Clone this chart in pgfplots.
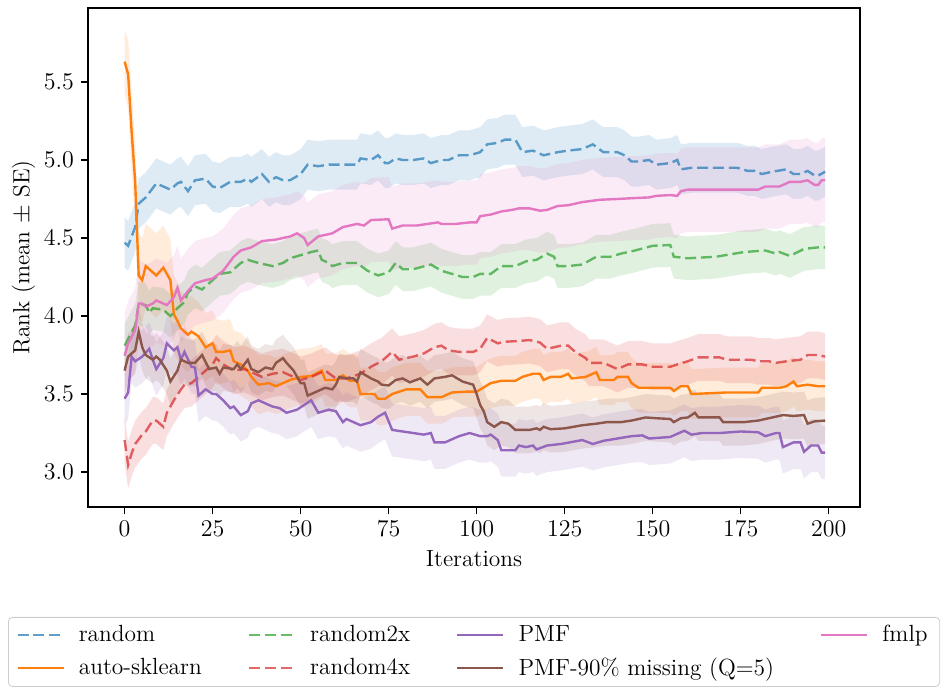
\documentclass[border=0pt]{standalone}
\usepackage{pgfplots}
\pgfplotsset{compat=1.18}
\usepackage{pgfplotstable}
\usepgfplotslibrary{fillbetween}
\definecolor{c0}{HTML}{1F77B4}
\definecolor{c1}{HTML}{FF7F0E}
\definecolor{c2}{HTML}{2CA02C}
\definecolor{c3}{HTML}{D62728}
\definecolor{c4}{HTML}{9467BD}
\definecolor{c5}{HTML}{8C564B}
\definecolor{c6}{HTML}{E377C2}
\newcommand{\fsz}{\fontsize{11.7}{14}\selectfont}

\pgfplotstableread{
i m
0 4.47
1 4.45
3 4.57
4 4.72
6 4.76
7 4.79
9 4.85
11 4.83
13 4.81
15 4.85
16 4.86
18 4.80
20 4.87
23 4.88
25 4.83
27 4.82
30 4.86
33 4.86
35 4.88
36 4.86
39 4.91
41 4.86
43 4.89
45 4.87
47 4.87
50 4.91
52 4.97
55 4.96
58 4.97
63 4.97
66 4.97
67 5.01
70 5.00
72 5.03
74 4.98
75 4.98
77 5.01
79 5.00
82 5.00
85 5.01
87 4.98
90 5.00
92 5.00
95 5.03
98 5.03
101 5.05
103 5.10
106 5.11
108 5.13
111 5.13
113 5.05
116 5.06
119 5.03
123 5.05
126 5.06
130 5.07
133 5.10
136 5.05
140 5.05
142 5.03
144 4.99
146 4.99
149 5.00
151 4.97
155 4.98
157 5.00
158 4.94
161 4.95
168 4.95
174 4.95
177 4.93
179 4.93
181 4.91
184 4.925
188 4.94
190 4.91
192 4.91
194 4.93
196 4.90
197 4.90
199 4.925
}\trandom

\pgfplotstableread{
i m
0 3.81
3 3.94
4 4.08
6 4.07
7 4.02
8 4.05
11 4.04
13 4.00
15 4.05
17 4.09
18 4.15
20 4.19
22 4.17
24 4.21
27 4.27
30 4.28
33 4.34
35 4.36
38 4.34
42 4.32
45 4.34
47 4.37
50 4.39
53 4.41
55 4.42
56 4.36
58 4.34
59 4.32
62 4.34
66 4.34
69 4.29
72 4.26
75 4.28
77 4.34
79 4.30
82 4.30
87 4.33
90 4.29
93 4.27
96 4.25
99 4.25
101 4.27
104 4.27
107 4.32
111 4.32
114 4.35
117 4.36
120 4.40
122 4.38
123 4.32
126 4.32
130 4.33
134 4.38
138 4.38
141 4.40
145 4.42
150 4.45
155 4.455
156 4.38
160 4.37
168 4.38
176 4.41
182 4.42
185 4.40
186 4.41
189 4.385
193 4.43
197 4.44
199 4.44
}\trandomtwo

\pgfplotstableread{
i m
0 3.205
1 3.045
2 3.12
3 3.18
5 3.24
6 3.26
8 3.33
9 3.33
11 3.29
12 3.38
14 3.46
16 3.53
17 3.56
19 3.57
21 3.61
23 3.65
25 3.69
26 3.73
28 3.69
31 3.65
34 3.66
36 3.64
39 3.61
42 3.63
45 3.64
47 3.62
50 3.59
53 3.61
57 3.65
60 3.60
63 3.60
67 3.63
70 3.675
73 3.71
76 3.77
78 3.72
82 3.74
85 3.76
88 3.80
90 3.81
92 3.78
95 3.77
99 3.77
101 3.79
103 3.86
106 3.825
108 3.835
112 3.84
115 3.846
118 3.83
120 3.79
124 3.81
126 3.81
128 3.77
131 3.73
132 3.70
136 3.70
140 3.66
143 3.69
147 3.69
150 3.675
155 3.675
157 3.69
160 3.71
163 3.735
169 3.735
171 3.72
178 3.72
180 3.71
183 3.71
185 3.70
188 3.71
192 3.72
194 3.75
197 3.75
199 3.74
}\trandomfour

\pgfplotstableread{
i m s
0 5.63 0.20
1 5.55 0.22
2 5.18 0.25
3 4.86 0.25
4 4.26 0.27
5 4.23 0.27
6 4.32 0.27
9 4.26 0.27
11 4.31 0.27
13 4.23 0.26
14 4.01 0.25
15 3.97 0.25
16 3.92 0.24
18 3.88 0.24
19 3.90 0.23
21 3.87 0.22
23 3.80 0.22
25 3.825 0.21
26 3.77 0.21
28 3.77 0.2
30 3.78 0.2
31 3.71 0.2
33 3.69 0.2
35 3.65 0.19
36 3.61 0.19
38 3.56 0.19
41 3.57 0.18
43 3.55 0.18
45 3.57 0.18
47 3.59 0.18
50 3.61 0.18
53 3.615 0.18
56 3.65 0.17
57 3.59 0.17
60 3.59 0.17
62 3.62 0.17
64 3.585 0.17
66 3.585 0.17
67 3.50 0.17
71 3.50 0.17
72 3.47 0.17
74 3.47 0.17
76 3.50 0.17
80 3.53 0.17
84 3.53 0.17
86 3.48 0.17
90 3.48 0.17
91 3.49 0.17
93 3.51 0.16
97 3.515 0.16
100 3.515 0.16
104 3.57 0.16
107 3.585 0.16
111 3.585 0.16
113 3.61 0.16
116 3.63 0.16
118 3.63 0.16
119 3.59 0.16
121 3.61 0.16
124 3.61 0.16
126 3.63 0.16
127 3.60 0.16
131 3.61 0.16
134 3.64 0.16
135 3.59 0.16
139 3.59 0.16
140 3.61 0.16
143 3.61 0.16
144 3.57 0.16
146 3.54 0.16
155 3.54 0.16
156 3.52 0.16
158 3.55 0.16
160 3.55 0.16
161 3.50 0.16
171 3.51 0.16
180 3.51 0.16
181 3.54 0.16
186 3.54 0.16
188 3.55 0.16
190 3.58 0.16
191 3.55 0.16
194 3.56 0.16
197 3.55 0.16
199 3.55 0.16
}\tauto

\pgfplotstableread{
i m
0 3.47
1 3.51
2 3.74
3 3.71
5 3.74
7 3.79
8 3.72
9 3.66
11 3.73
12 3.825
14 3.78
15 3.80
16 3.72
17 3.77
19 3.675
20 3.67
21 3.49
23 3.53
25 3.50
26 3.50
28 3.46
30 3.41
31 3.42
33 3.365
35 3.39
36 3.44
38 3.46
40 3.44
42 3.42
44 3.41
46 3.38
49 3.40
51 3.43
53 3.46
55 3.38
58 3.40
60 3.39
62 3.32
63 3.34
67 3.30
70 3.32
72 3.355
74 3.38
76 3.27
79 3.26
82 3.25
85 3.24
87 3.25
88 3.19
91 3.19
95 3.23
98 3.25
101 3.23
103 3.23
104 3.24
106 3.205
107 3.14
111 3.14
112 3.17
114 3.16
116 3.17
117 3.145
120 3.17
124 3.18
130 3.205
133 3.18
136 3.20
140 3.215
144 3.23
147 3.235
149 3.215
155 3.225
156 3.235
159 3.265
161 3.24
164 3.25
169 3.25
175 3.26
180 3.255
182 3.23
185 3.25
186 3.25
187 3.16
190 3.19
192 3.19
193 3.13
195 3.17
197 3.17
198 3.125
199 3.125
}\tpmf

\pgfplotstableread{
i m
0 3.65
1 3.74
3 3.78
4 3.90
5 3.80
6 3.75
8 3.72
9 3.74
10 3.72
12 3.65
13 3.58
15 3.65
16 3.72
18 3.70
20 3.70
22 3.75
24 3.66
26 3.67
27 3.63
28 3.67
31 3.66
32 3.69
33 3.66
35 3.72
36 3.66
38 3.64
40 3.67
42 3.66
43 3.70
45 3.73
46 3.70
48 3.65
50 3.57
51 3.57
52 3.49
54 3.51
57 3.54
59 3.53
60 3.56
61 3.61
63 3.60
65 3.60
66 3.58
67 3.64
70 3.60
72 3.58
73 3.56
75 3.555
77 3.59
79 3.60
81 3.575
84 3.60
86 3.56
88 3.60
91 3.61
93 3.62
96 3.58
99 3.56
100 3.50
101 3.43
102 3.39
103 3.32
105 3.29
107 3.32
109 3.31
111 3.27
115 3.27
117 3.28
118 3.27
119 3.29
121 3.275
125 3.28
130 3.30
134 3.31
137 3.32
141 3.32
144 3.33
148 3.35
151 3.345
155 3.34
156 3.32
158 3.345
160 3.35
162 3.38
163 3.35
169 3.35
170 3.32
176 3.32
180 3.33
184 3.35
187 3.365
190 3.36
193 3.365
194 3.31
196 3.325
199 3.33
}\tpmfmiss

\pgfplotstableread{
i m
0 3.745
1 3.825
3 3.91
4 4.08
5 4.08
6 4.06
8 4.08
9 4.10
11 4.08
12 4.07
14 4.12
15 4.18
16 4.10
18 4.16
20 4.21
23 4.23
25 4.24
28 4.29
31 4.38
33 4.42
36 4.44
39 4.48
43 4.49
47 4.51
49 4.53
51 4.50
52 4.455
55 4.51
59 4.53
62 4.57
66 4.59
68 4.58
70 4.615
75 4.62
76 4.56
79 4.58
83 4.58
86 4.59
89 4.60
90 4.59
94 4.59
98 4.60
100 4.60
101 4.64
104 4.65
107 4.67
110 4.68
112 4.69
115 4.69
118 4.675
120 4.68
123 4.705
126 4.71
130 4.73
135 4.745
140 4.75
144 4.755
149 4.76
151 4.77
155 4.775
157 4.77
158 4.80
160 4.81
171 4.81
180 4.81
182 4.83
186 4.83
189 4.86
192 4.86
194 4.87
196 4.84
197 4.84
198 4.87
199 4.87
}\tfmlp

\begin{document}
\begin{tikzpicture}
\begin{axis}[
  at={(0pt,0pt)}, anchor=south west,
  scale only axis, width=386pt, height=249.5pt,
  xmin=-10.4, xmax=208.9, ymin=2.776, ymax=5.974,
  xtick={0,25,50,75,100,125,150,175,200},
  ytick={3.0,3.5,4.0,4.5,5.0,5.5},
  yticklabel style={/pgf/number format/.cd,fixed,fixed zerofill,precision=1},
  tick label style={font=\fsz},
  label style={font=\fsz},
  ylabel style={yshift=-2.5pt},
  tick align=outside, tick pos=left, major tick length=3.5pt,
  major tick style={black, line width=0.8pt},
  axis line style={line width=0.8pt},
  xlabel={Iterations}, ylabel={Rank (mean $\pm$ SE)},
  legend columns=4,
  legend cell align=left,
  legend style={at={(-0.1036,-0.2204)}, anchor=north west, draw=black!20,
    rounded corners=2pt, font=\fsz, inner xsep=4pt, inner ysep=2pt,
    row sep=2.5pt,
    /tikz/every even column/.append style={column sep=21pt}},
  legend image code/.code={\draw[#1] (0pt,0pt) -- (23pt,0pt); \path (28pt,0pt);},
]
% bands
\addplot[draw=none, name path=aU, forget plot] table[x=i, y expr=\thisrow{m}+0.16] {\trandom};
\addplot[draw=none, name path=aL, forget plot] table[x=i, y expr=\thisrow{m}-0.16] {\trandom};
\addplot[fill=c0, fill opacity=0.15, draw=none, forget plot] fill between[of=aU and aL];

\addplot[draw=none, name path=bU, forget plot] table[x=i, y expr=\thisrow{m}+\thisrow{s}] {\tauto};
\addplot[draw=none, name path=bL, forget plot] table[x=i, y expr=\thisrow{m}-\thisrow{s}] {\tauto};
\addplot[fill=c1, fill opacity=0.15, draw=none, forget plot] fill between[of=bU and bL];

\addplot[draw=none, name path=cU, forget plot] table[x=i, y expr=\thisrow{m}+0.14] {\trandomtwo};
\addplot[draw=none, name path=cL, forget plot] table[x=i, y expr=\thisrow{m}-0.14] {\trandomtwo};
\addplot[fill=c2, fill opacity=0.15, draw=none, forget plot] fill between[of=cU and cL];

\addplot[draw=none, name path=dU, forget plot] table[x=i, y expr=\thisrow{m}+0.15] {\trandomfour};
\addplot[draw=none, name path=dL, forget plot] table[x=i, y expr=\thisrow{m}-0.15] {\trandomfour};
\addplot[fill=c3, fill opacity=0.15, draw=none, forget plot] fill between[of=dU and dL];

\addplot[draw=none, name path=eU, forget plot] table[x=i, y expr=\thisrow{m}+0.17] {\tpmf};
\addplot[draw=none, name path=eL, forget plot] table[x=i, y expr=\thisrow{m}-0.17] {\tpmf};
\addplot[fill=c4, fill opacity=0.15, draw=none, forget plot] fill between[of=eU and eL];

\addplot[draw=none, name path=fU, forget plot] table[x=i, y expr=\thisrow{m}+0.15] {\tpmfmiss};
\addplot[draw=none, name path=fL, forget plot] table[x=i, y expr=\thisrow{m}-0.15] {\tpmfmiss};
\addplot[fill=c5, fill opacity=0.15, draw=none, forget plot] fill between[of=fU and fL];

\addplot[draw=none, name path=gU, forget plot] table[x=i, y expr=\thisrow{m}+0.27] {\tfmlp};
\addplot[draw=none, name path=gL, forget plot] table[x=i, y expr=\thisrow{m}-0.27] {\tfmlp};
\addplot[fill=c6, fill opacity=0.15, draw=none, forget plot] fill between[of=gU and gL];

% lines
\addplot[c0, draw opacity=0.7, line width=1.2pt, dash pattern=on 5.5pt off 2.4pt, forget plot] table[x=i,y=m] {\trandom};
\addplot[c1, line width=1.2pt, forget plot] table[x=i,y=m] {\tauto};
\addplot[c2, draw opacity=0.7, line width=1.2pt, dash pattern=on 5.5pt off 2.4pt, forget plot] table[x=i,y=m] {\trandomtwo};
\addplot[c3, draw opacity=0.7, line width=1.2pt, dash pattern=on 5.5pt off 2.4pt, forget plot] table[x=i,y=m] {\trandomfour};
\addplot[c4, line width=1.2pt, forget plot] table[x=i,y=m] {\tpmf};
\addplot[c5, line width=1.2pt, forget plot] table[x=i,y=m] {\tpmfmiss};
\addplot[c6, line width=1.2pt, forget plot] table[x=i,y=m] {\tfmlp};

% legend (row-wise order to match column-wise layout)
\addlegendimage{c0, draw opacity=0.7, line width=1.2pt, dash pattern=on 5.5pt off 2.4pt}
\addlegendentry{random}
\addlegendimage{c2, draw opacity=0.7, line width=1.2pt, dash pattern=on 5.5pt off 2.4pt}
\addlegendentry{random2x}
\addlegendimage{c4, line width=1.2pt}
\addlegendentry{PMF}
\addlegendimage{c6, line width=1.2pt}
\addlegendentry{fmlp}
\addlegendimage{c1, line width=1.2pt}
\addlegendentry{auto-sklearn}
\addlegendimage{c3, draw opacity=0.7, line width=1.2pt, dash pattern=on 5.5pt off 2.4pt}
\addlegendentry{random4x}
\addlegendimage{c5, line width=1.2pt}
\addlegendentry{PMF-90\% missing (Q=5)}
\end{axis}
\path (-44pt,-92.5pt) rectangle (428.5pt,253.5pt);
\end{tikzpicture}
\end{document}
